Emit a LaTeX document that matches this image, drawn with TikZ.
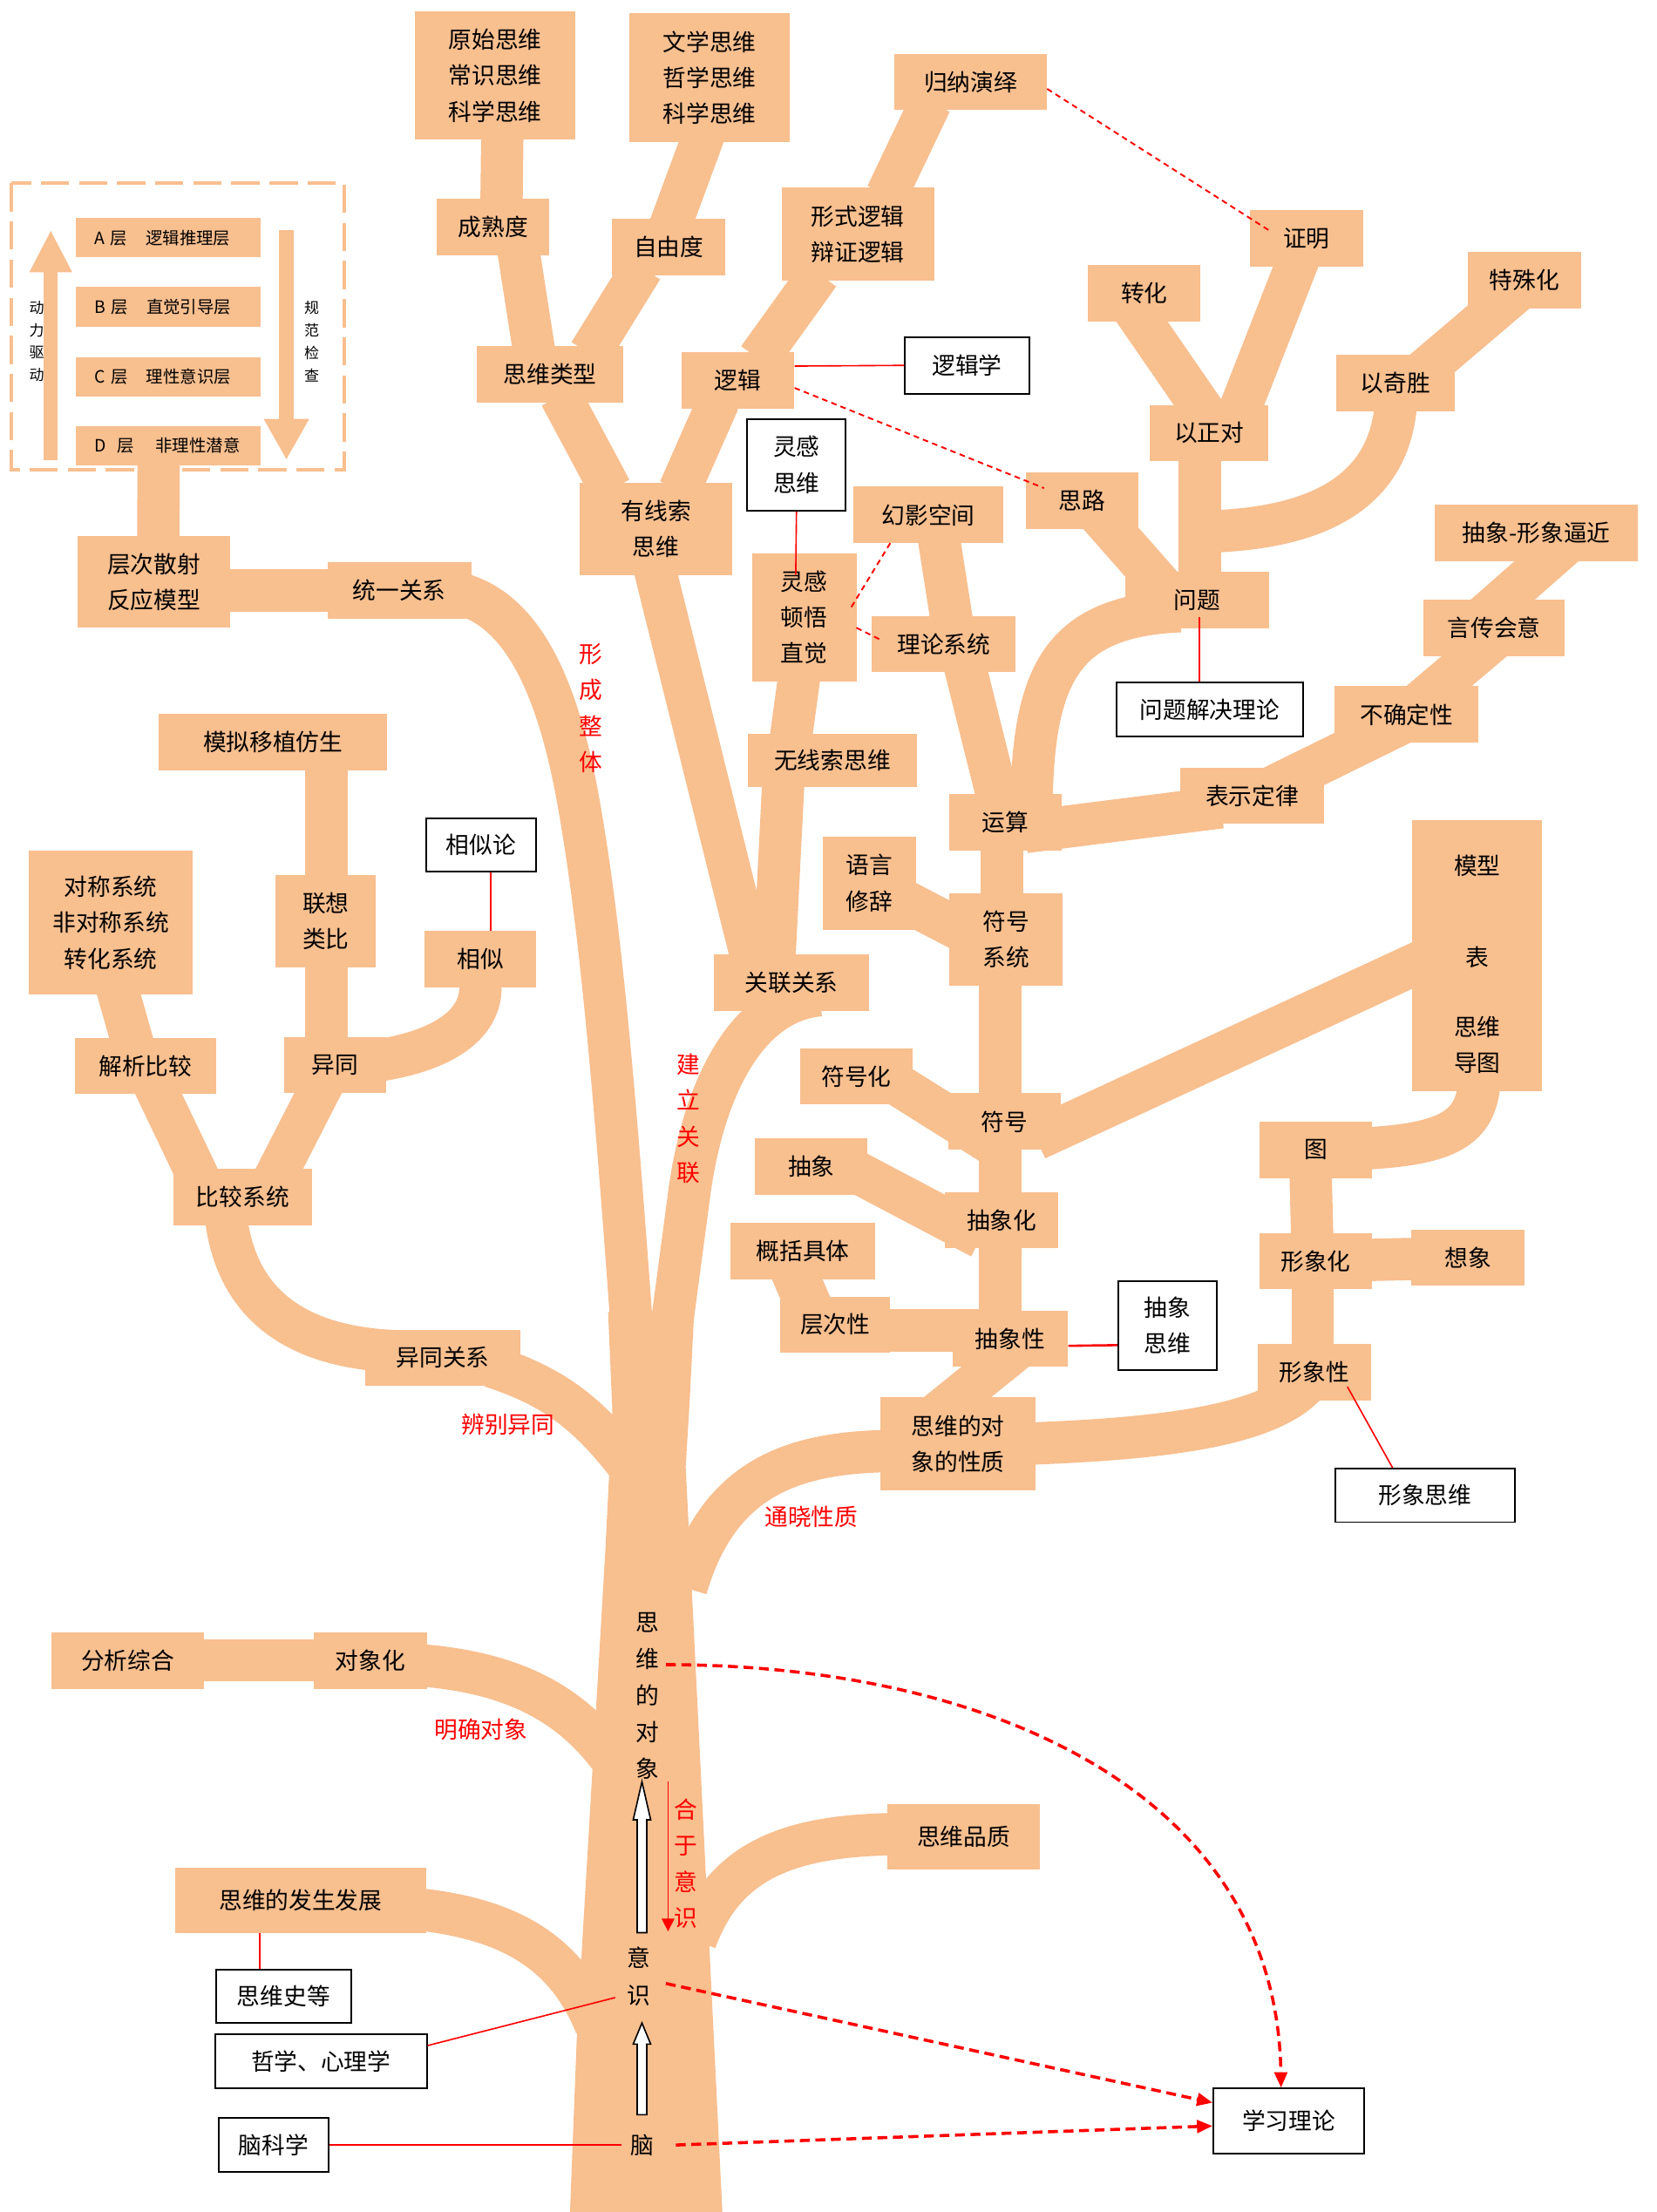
\documentclass[tikz,border=0pt]{standalone}
\usepackage{fontspec}
\setmainfont{Noto Sans CJK SC}
\usetikzlibrary{arrows.meta}
\usetikzlibrary{backgrounds}

\definecolor{peach}{RGB}{248,191,143}

\begin{document}
\begin{tikzpicture}[x=1pt, y=-1pt, font=\fontsize{16.5}{25.5}\selectfont,
	twig/.style 2 args={fill=peach, minimum width=#1, minimum height=#2, inner sep=0pt, align=center},
	card/.style 2 args={draw=black, line width=1.2pt, fill=white, minimum width=#1, minimum height=#2, inner sep=0pt, align=center},
	bough/.style={draw=peach, line width=30pt, shorten <=-6pt, shorten >=-6pt},
	tier/.style={fill=peach, minimum width=131, minimum height=28, inner sep=0pt, text width=105pt, align=left, font=\fontsize{12}{14}\selectfont},
	redtie/.style={draw=red, line width=1pt},
	redhint/.style={draw=red, line width=1.2pt, dash pattern=on 4pt off 3pt},
	redflow/.style={draw=red, line width=2.2pt, dash pattern=on 7pt off 4pt, -{Triangle[length=11pt, width=9pt]}},
	rednote/.style={text=red, align=center},
	hollowup/.style={draw=black, fill=white, line width=1pt}]

	\useasboundingbox (0,0) rectangle (1174,1568);

	% layer model
	\draw[draw=peach, line width=2.5pt, dash pattern=on 20pt off 7pt] (8,130) rectangle (244,333);
	\node[tier] (layerA) at (119.5,168.5) {A 层\hspace{13pt}逻辑推理层};
	\node[tier] (layerB) at (119.5,217.5) {B 层\hspace{13pt}直觉引导层};
	\node[tier] (layerC) at (119.5,267) {C 层\hspace{13pt}理性意识层};
	\node[tier] (layerD) at (119.5,316) {D\hspace{8pt}层\hspace{15pt}非理性潜意};
	\draw[draw=peach, line width=10pt, -{Triangle[length=30pt, width=28pt]}] (36,326) -- (36,163);
	\draw[draw=peach, line width=10pt, -{Triangle[length=29pt, width=30pt]}] (203,163) -- (203,326);
	\node[font=\fontsize{10.5}{16}\selectfont, align=center] (dongli) at (26,242) {动\\力\\驱\\动};
	\node[font=\fontsize{10.5}{16}\selectfont, align=center] (guifan) at (221,242) {规\\范\\检\\查};

	% crown, left part
	\node[twig={114}{91}] (yuanshi) at (351,53.5) {原始思维\\常识思维\\科学思维};
	\node[twig={114}{91}] (wenxue) at (503,55) {文学思维\\哲学思维\\科学思维};
	\node[twig={80}{40}] (chengshu) at (349.5,161) {成熟度};
	\node[twig={80}{40}] (ziyou) at (474,175) {自由度};
	\node[twig={104}{40}] (leixing) at (390,265.5) {思维类型};
	\node[twig={108}{40}] (guina) at (688,58) {归纳演绎};
	\node[twig={108}{66}] (xingshi) at (608,166) {形式逻辑\\辩证逻辑};
	\node[twig={80}{40}] (luoji) at (523,269.5) {逻辑};
	\node[card={88}{40}] (luojixue) at (685.5,259) {逻辑学};
	\node[twig={108}{66}] (youxian) at (465,375) {有线索\\思维};
	\node[card={70}{65}] (linggan) at (564.5,329.5) {灵感\\思维};
	\node[twig={74}{91}] (dunwu) at (570,437.5) {灵感\\顿悟\\直觉};
	\node[twig={106}{40}] (huanying) at (658,365) {幻影空间};
	\node[twig={102}{40}] (lilun) at (669,456.5) {理论系统};
	\node[twig={120}{38}] (wuxian) at (590,539) {无线索思维};
	\node[twig={110}{40}] (guanxi) at (561,696.5) {关联关系};

	% crown, right part
	\node[twig={80}{40}] (silu) at (767,355) {思路};
	\node[twig={80}{40}] (zhengming) at (926,169) {证明};
	\node[twig={80}{40}] (zhuanhua) at (811,208) {转化};
	\node[twig={80}{40}] (teshu) at (1080.5,198.5) {特殊化};
	\node[twig={84}{40}] (yizheng) at (857,307) {以正对};
	\node[twig={84}{40}] (yiqi) at (989,271.5) {以奇胜};
	\node[twig={102}{40}] (wenti) at (848.5,425.5) {问题};
	\node[card={132}{38}] (jiejue) at (857.5,503) {问题解决理论};
	\node[twig={144}{40}] (bijin) at (1089,378) {抽象-形象逼近};
	\node[twig={100}{40}] (yanchuan) at (1059,445) {言传会意};
	\node[twig={102}{40}] (buqueding) at (997,506.5) {不确定性};
	\node[twig={102}{40}] (biaoshi) at (887.5,564) {表示定律};
	\node[twig={80}{40}] (yunsuan) at (712.5,583) {运算};
	\node[twig={66}{66}] (yuyan) at (616,626) {语言\\修辞};
	\node[twig={80}{65}] (fuhaoxt) at (713,666) {符号\\系统};
	\node[twig={92}{192}] (moxing) at (1047,677.5) {\rule{0pt}{26pt}模型\\[39pt]表\\[24pt]思维\\导图};
	\node[twig={80}{40}] (fuhaohua) at (607,763) {符号化};
	\node[twig={80}{40}] (fuhao) at (712,795) {符号};
	\node[twig={80}{40}] (chouxiang) at (575,827) {抽象};
	\node[twig={80}{40}] (chouxianghua) at (710,865) {抽象化};
	\node[twig={102}{40}] (gaikuo) at (569,887) {概括具体};
	\node[twig={78}{40}] (cengci) at (592,939) {层次性};
	\node[twig={82}{40}] (chouxiangxing) at (716,949) {抽象性};
	\node[card={70}{63}] (cxsiwei) at (827.5,939.5) {抽象\\思维};
	\node[twig={80}{40}] (tu) at (932.5,815) {图};
	\node[twig={80}{40}] (xingxianghua) at (932.5,894) {形象化};
	\node[twig={80}{40}] (xiangxiang) at (1040.5,891.5) {想象};
	\node[twig={80}{40}] (xingxiangxing) at (931.5,972.5) {形象性};
	\node[card={127}{38}] (xxsiwei) at (1010,1060) {形象思维};
	\node[twig={110}{66}] (xingzhi) at (679,1023.5) {思维的对\\象的性质};

	% left side
	\node[twig={108}{65}] (sanshe) at (109,412.5) {层次散射\\反应模型};
	\node[twig={102}{40}] (tongyi) at (283,418.5) {统一关系};
	\node[twig={162}{40}] (moni) at (193.5,526) {模拟移植仿生};
	\node[card={78}{38}] (xiangsilun) at (341,599) {相似论};
	\node[twig={116}{102}] (duicheng) at (78.5,654) {对称系统\\非对称系统\\转化系统};
	\node[twig={71}{66}] (lianxiang) at (231,653) {联想\\类比};
	\node[twig={79}{40}] (xiangsi) at (340.5,680) {相似};
	\node[twig={100}{40}] (jiexi) at (103,755.5) {解析比较};
	\node[twig={72}{40}] (yitong) at (237.5,755) {异同};
	\node[twig={98}{40}] (bijiao) at (172,848.5) {比较系统};
	\node[twig={110}{40}] (yitongguanxi) at (314,962.5) {异同关系};
	\node[twig={108}{40}] (fenxi) at (90.5,1177) {分析综合};
	\node[twig={80}{40}] (duixianghua) at (262.5,1177) {对象化};
	\node[twig={108}{46}] (pinzhi) at (683,1302) {思维品质};
	\node[twig={178}{46}] (fasheng) at (213,1347) {思维的发生发展};
	\node[card={96}{38}] (sweishi) at (201,1415) {思维史等};
	\node[card={150}{38}] (zhexue) at (227.5,1461) {哲学、心理学};
	\node[card={78}{38}] (naokexue) at (194,1520.5) {脑科学};
	\node[card={107}{46}] (xuexi) at (913.5,1503.5) {学习理论};

	% trunk
	\node[align=center, font=\fontsize{16.5}{26}\selectfont] (duixiang) at (459,1202) {思\\维\\的\\对\\象};
	\node[align=center, font=\fontsize{16.5}{26}\selectfont] (yishi) at (453,1401) {意\\识};
	\node (nao) at (455,1520.5) {脑};
	\coordinate (joinA) at (440,1032);
	\coordinate (joinB) at (488,1120);
	\coordinate (joinC) at (428,1240);
	\coordinate (joinD) at (420,1430);
	\coordinate (joinE) at (495,1370);

	\node[rednote] (xingcheng) at (419,502) {形\\成\\整\\体};
	\node[rednote] (jianli) at (488,793) {建\\立\\关\\联};
	\node[rednote] (bianbie) at (360,1010) {辨别异同};
	\node[rednote] (tongxiao) at (575,1075) {通晓性质};
	\node[rednote] (mingque) at (341,1226) {明确对象};
	\node[rednote] (heyu) at (486,1321) {合\\于\\意\\识};

	\begin{pgfonlayer}{background}
		\fill[peach] (431,930) -- (434,1000) -- (429,1100) -- (409,1440) -- (404,1568) -- (512,1568) -- (491,1140) -- (486,1040) -- (489,990) -- (492,930) -- cycle;
		\draw[bough] ([shift={(30,0)}]tongyi.center) .. controls (372,418.5) and (398,495) .. (412,580) .. controls (422,640) and (432,720) .. (447,930);
		\draw[bough] ([shift={(14,9.5)}]guanxi.center) .. controls (530,710) and (498,770) .. (488,850) -- (476,940);

		% crown, left part
		\draw[bough] ([shift={(5,0)}]yuanshi.south) -- ([shift={(6,0)}]chengshu.north);
		\draw[bough] ([shift={(-6,0)}]wenxue.south) -- ([shift={(3,0)}]ziyou.north);
		\draw[bough] ([shift={(18.5,0)}]chengshu.south) -- ([shift={(-12,0)}]leixing.north);
		\draw[bough] ([shift={(-22,0)}]ziyou.south) -- ([shift={(31,0)}]leixing.north);
		\draw[bough] ([shift={(10,0)}]leixing.south) -- ([shift={(-35,0)}]youxian.north);
		\draw[bough] ([shift={(-16,0)}]luoji.south) -- ([shift={(19,0)}]youxian.north);
		\draw[bough] ([shift={(-31,0)}]xingshi.south) -- ([shift={(18,0)}]luoji.north);
		\draw[bough] ([shift={(-31,0)}]guina.south) -- ([shift={(23,0)}]xingshi.north);
		\draw[bough] ([shift={(-8,0)}]youxian.center) -- ([shift={(-24,0)}]guanxi.center);
		\draw[bough] ([shift={(-35,0)}]wuxian.south) -- ([shift={(-13,0)}]guanxi.center);
		\draw[bough] ([shift={(-4,0)}]dunwu.south) -- ([shift={(-29,0)}]wuxian.north);
		\draw[bough] ([shift={(8,0)}]huanying.south) -- ([shift={(5,0)}]lilun.north);
		\draw[bough] ([shift={(16,0)}]lilun.south) -- ([shift={(-1,0)}]yunsuan.center);

		% crown, right part
		\draw[bough] ([shift={(2,0)}]wenti.center) -- ([shift={(-6.5,0)}]yizheng.center);
		\draw[bough] (yiqi.south) .. controls (985,345) and (940,377) .. ([shift={(1.5,-48.5)}]wenti.center);
		\draw[bough] ([shift={(12,10)}]silu.center) -- ([shift={(-25,-10)}]wenti.center);
		\draw[bough] ([shift={(-14,2)}]zhuanhua.center) -- ([shift={(5.5,-2)}]yizheng.center);
		\draw[bough] ([shift={(-1,3)}]zhengming.center) -- ([shift={(16,-2)}]yizheng.center);
		\draw[bough] ([shift={(-3.5,6.5)}]teshu.center) -- ([shift={(14,-3.5)}]yiqi.center);
		\draw[bough] ([shift={(-18,8)}]wenti.center) .. controls (750,437) and (731,480) .. ([shift={(18.5,-8)}]yunsuan.center);
		\draw[bough] ([shift={(20,6)}]yunsuan.center) -- ([shift={(-28,9)}]biaoshi.center);
		\draw[bough] ([shift={(8,-3)}]biaoshi.center) -- ([shift={(-7,8)}]buqueding.center);
		\draw[bough] ([shift={(11,-10)}]buqueding.center) -- ([shift={(-1,9)}]yanchuan.center);
		\draw[bough] ([shift={(-4,-11)}]yanchuan.center) -- ([shift={(16,12)}]bijin.center);

		% symbols and images
		\draw[bough] ([shift={(-2.5,0)}]yunsuan.center) -- ([shift={(-3,0)}]fuhaoxt.center);
		\draw[bough] ([shift={(24,12)}]yuyan.center) -- ([shift={(-23,-2)}]fuhaoxt.center);
		\draw[bough] ([shift={(-4,0)}]fuhaoxt.center) -- ([shift={(-3,0)}]fuhao.center);
		\draw[bough] ([shift={(23,2)}]fuhaohua.center) -- ([shift={(-12,14)}]fuhao.center);
		\draw[bough] ([shift={(28,10)}]fuhao.center) -- ([shift={(-17,-6.5)}]moxing.center);
		\draw[bough] ([shift={(1,0)}]moxing.south) .. controls (1045,805) and (1020,815) .. (tu.center);
		\draw[bough] ([shift={(-4,0)}]tu.center) -- ([shift={(-2,0)}]xingxianghua.center);
		\draw[bough] (xingxianghua.center) -- (xiangxiang.center);
		\draw[bough] ([shift={(-2,0)}]xingxianghua.center) -- ([shift={(-1,0)}]xingxiangxing.center);
		\draw[bough] ([shift={(-3,0)}]fuhao.center) -- ([shift={(-1,0)}]chouxianghua.center);
		\draw[bough] ([shift={(25,0)}]chouxiang.center) -- ([shift={(-20,9.5)}]chouxianghua.center);
		\draw[bough] ([shift={(-1,0)}]chouxianghua.center) -- ([shift={(-7,0)}]chouxiangxing.center);
		\draw[bough, line width=33pt] ([shift={(-9,8)}]gaikuo.center) -- ([shift={(-17,-9)}]cengci.center);
		\draw[bough] ([shift={(0,4)}]cengci.center) -- ([shift={(0,-6)}]chouxiangxing.center);
		\draw[bough] ([shift={(-11,-24.5)}]xingzhi.center) -- ([shift={(4,8)}]chouxiangxing.center);
		\draw[bough] ([shift={(46,0)}]xingzhi.center) .. controls (830,1020) and (915,1010) .. ([shift={(-0.5,2.5)}]xingxiangxing.center);

		% left side and lower branches
		\draw[bough] ([shift={(-7,0)}]layerD.center) -- ([shift={(3,0)}]sanshe.center);
		\draw[bough] ([shift={(0,6)}]sanshe.center) -- (tongyi.center);
		\draw[bough] ([shift={(38,0)}]moni.center) -- ([shift={(0.5,0)}]lianxiang.center);
		\draw[bough] ([shift={(0.5,0)}]lianxiang.center) -- ([shift={(-6,0)}]yitong.center);
		\draw[bough] (xiangsi.center) -- (xiangsi.south) .. controls (340.5,728) and (310,752) .. (yitong.center);
		\draw[bough] ([shift={(1.5,36)}]duicheng.center) -- ([shift={(-6,-5.5)}]jiexi.center);
		\draw[bough] ([shift={(2,4.5)}]jiexi.center) -- ([shift={(-24,1.5)}]bijiao.center);
		\draw[bough] ([shift={(-4.5,5)}]yitong.center) -- ([shift={(16,-0.5)}]bijiao.center);
		\draw[bough] ([shift={(-13,0)}]bijiao.center) .. controls (159,920) and (205,958) .. ([shift={(-29,-4.5)}]yitongguanxi.center);
		\draw[bough] ([shift={(40,8)}]yitongguanxi.center) .. controls (390,982) and (415,1000) .. (joinA);
		\draw[bough] ([shift={(-45,5)}]xingzhi.center) .. controls (565,1028) and (510,1045) .. (joinB);
		\draw[bough] (fenxi.center) -- (duixianghua.center);
		\draw[bough] ([shift={(30,3)}]duixianghua.center) .. controls (355,1183) and (400,1203) .. (joinC);
		\draw[bough] ([shift={(80,6)}]fasheng.center) .. controls (355,1358) and (400,1380) .. (joinD);
		\draw[bough] ([shift={(-45,-2)}]pinzhi.center) .. controls (565,1300) and (515,1315) .. (joinE);
	\end{pgfonlayer}

	% red links
	\draw[redtie] ([shift={(0,-10)}]luoji.east) -- (luojixue.west);
	\draw[redtie] (linggan.south) -- ([shift={(-6,-30)}]dunwu.center);
	\draw[redtie] ([shift={(1.5,12)}]wenti.center) -- ([shift={(-7.5,0)}]jiejue.north);
	\draw[redtie] ([shift={(7,0)}]xiangsilun.south) -- ([shift={(7.5,0)}]xiangsi.north);
	\draw[redtie, line width=1.6pt] ([shift={(0,5)}]chouxiangxing.east) -- ([shift={(0,14)}]cxsiwei.west);
	\draw[redtie] ([shift={(23.5,10.5)}]xingxiangxing.center) -- ([shift={(-23,0)}]xxsiwei.north);
	\draw[redtie] ([shift={(-29,0)}]fasheng.south) -- ([shift={(-17,0)}]sweishi.north);
	\draw[redtie] ([shift={(0,-11)}]zhexue.east) -- ([shift={(-17,15)}]yishi.center);
	\draw[redtie] (naokexue.east) -- ([shift={(-3,0)}]nao.west);

	\draw[redhint] ([shift={(0,5)}]guina.east) -- ([shift={(-27,-6)}]zhengming.center);
	\draw[redhint] ([shift={(0,5.5)}]luoji.east) -- ([shift={(-27,-9)}]silu.center);
	\draw[redhint] ([shift={(-27,20)}]huanying.center) -- ([shift={(33,-6.5)}]dunwu.center);
	\draw[redhint] ([shift={(37,7.5)}]dunwu.center) -- ([shift={(-44,-2.5)}]lilun.center);

	\draw[redflow] ([shift={(13,-22)}]duixiang.center) .. controls (700,1180) and (905,1270) .. ([shift={(-5.5,0)}]xuexi.north);
	\draw[redflow] ([shift={(19,5)}]yishi.center) -- ([shift={(0,-13)}]xuexi.west);
	\draw[redflow] ([shift={(24,0)}]nao.center) -- ([shift={(0,3.5)}]xuexi.west);

	% arrows along the trunk
	\coordinate (up1) at (455,1370);
	\coordinate (tip1) at (455,1263);
	\coordinate (up2) at (455,1499);
	\coordinate (tip2) at (455,1434);
	\draw[hollowup] (up1) ++(-3.4,0) -- ++(0,-80) -- ++(-2.8,0) -- (tip1) -- ++(6.2,27) -- ++(-2.8,0) -- ++(0,80) -- cycle;
	\draw[hollowup] (up2) ++(-3.4,0) -- ++(0,-50) -- ++(-2.8,0) -- (tip2) -- ++(6.2,15) -- ++(-2.8,0) -- ++(0,50) -- cycle;
	\coordinate (fall1) at (473.5,1263);
	\coordinate (fall2) at (473.5,1369);
	\draw[red, line width=1pt, -{Triangle[length=9pt, width=9pt]}] (fall1) -- (fall2);

\end{tikzpicture}
\end{document}
